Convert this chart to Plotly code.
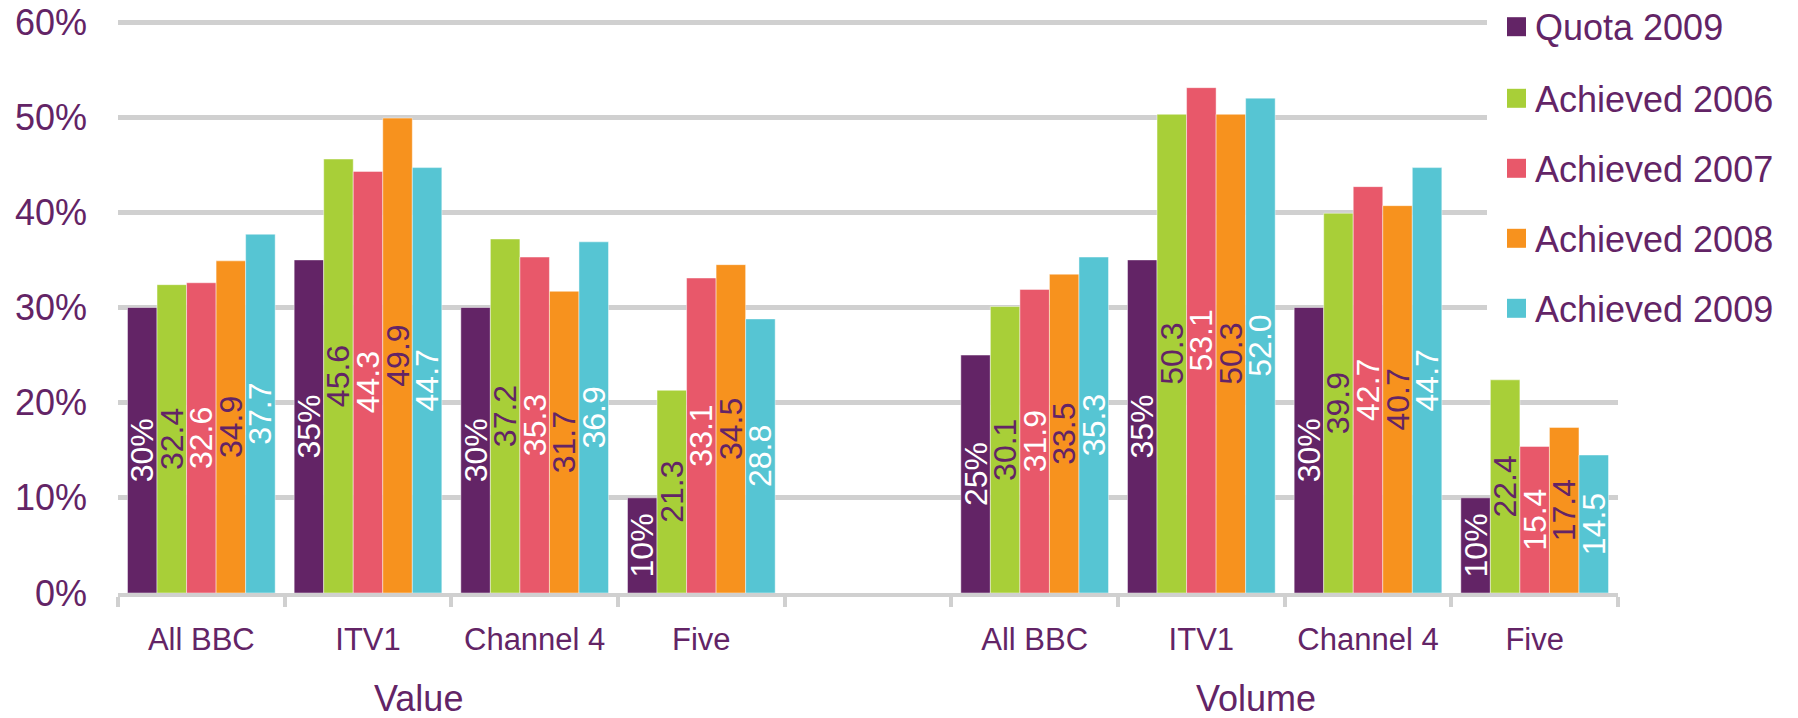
import plotly.graph_objects as go

# ---------------- data ----------------
groups = ["Value", "Volume"]
channels = ["All BBC", "ITV1", "Channel 4", "Five"]
series_names = ["Quota 2009", "Achieved 2006", "Achieved 2007", "Achieved 2008", "Achieved 2009"]

value_quota_2009 = [30, 35, 30, 10]
value_2006 = [32.4, 45.6, 37.2, 21.3]
value_2007 = [32.6, 44.3, 35.3, 33.1]
value_2008 = [34.9, 49.9, 31.7, 34.5]
value_2009 = [37.7, 44.7, 36.9, 28.8]

volume_quota_2009 = [25, 35, 30, 10]
volume_2006 = [30.1, 50.3, 39.9, 22.4]
volume_2007 = [31.9, 53.1, 42.7, 15.4]
volume_2008 = [33.5, 50.3, 40.7, 17.4]
volume_2009 = [35.3, 52.0, 44.7, 14.5]

y_ticks = [0, 10, 20, 30, 40, 50, 60]

# ---------------- style ----------------
PURPLE = "#632466"
bar_colors = [PURPLE, "#a8cf38", "#e8586a", "#f7921e", "#56c5d3"]
label_colors = ["#ffffff", PURPLE, "#ffffff", PURPLE, "#ffffff"]
GRID = "#d0d0d0"
FONT = "Liberation Sans, Arial, sans-serif"

# the page body adds an 8px margin, so the figure is 8px smaller and all
# reference pixel positions are shifted by that offset
OFF = 8
W, H = 1798 - OFF, 718 - OFF
PLOT_R, PLOT_B = 1618 - OFF, 593 - OFF
PX_PER_UNIT = (593 - 22) / 60.0          # 60% gridline at y=22, 0% at y=593
Y_TOP = 60.42                            # a little headroom so the 60% gridline is drawn
ML = 118 - OFF
MT = (22 - OFF) - (Y_TOP - 60) * PX_PER_UNIT
MR, MB = W - PLOT_R, H - PLOT_B
PW, PH = W - ML - MR, H - MT - MB


def px_x(x):
    return (x - OFF - ML) / PW


def px_y(y):
    return (PLOT_B - (y - OFF)) / PH


# category ids (unique) and their display text
x_ids = [f"Value|{c}" for c in channels] + ["gap"] + [f"Volume|{c}" for c in channels]
x_text = channels + [""] + channels

value_series = [value_quota_2009, value_2006, value_2007, value_2008, value_2009]
volume_series = [volume_quota_2009, volume_2006, volume_2007, volume_2008, volume_2009]

fig = go.Figure()
for i, name in enumerate(series_names):
    ys = list(value_series[i]) + [None] + list(volume_series[i])
    if i == 0:
        txt = [("" if v is None else f"{v:.0f}%") for v in ys]
    else:
        txt = [("" if v is None else f"{v:.1f}") for v in ys]
    fig.add_trace(go.Bar(
        x=x_ids, y=ys, name=name,
        marker=dict(color=bar_colors[i], line=dict(color="rgba(255,255,255,0.45)", width=1)),
        text=txt, textposition="inside", insidetextanchor="middle",
        textangle=-90, constraintext="none",
        textfont=dict(family=FONT, size=32, color=label_colors[i]),
        showlegend=False, hoverinfo="skip",
    ))

shapes = []
annotations = []

# legend (white box over the gridlines, squares + labels)
shapes.append(dict(type="rect", xref="paper", yref="paper", layer="above",
                   x0=px_x(1487), x1=px_x(1798 + 5), y0=px_y(-5), y1=px_y(345),
                   fillcolor="white", line=dict(width=0)))
leg_y = [26.7, 98.3, 168.3, 238.3, 308.3]
for i, name in enumerate(series_names):
    cy = leg_y[i]
    shapes.append(dict(type="rect", xref="paper", yref="paper", layer="above",
                       x0=px_x(1507), x1=px_x(1526), y0=px_y(cy + 9.5), y1=px_y(cy - 9.5),
                       fillcolor=bar_colors[i], line=dict(width=0)))
    annotations.append(dict(xref="paper", yref="paper", x=px_x(1533), y=px_y(cy + 1),
                            text=name, showarrow=False, xanchor="left", yanchor="middle",
                            font=dict(family=FONT, size=36, color=PURPLE)))

# group titles
group_x = [1.3, 6.33]
for g, gx in zip(groups, group_x):
    annotations.append(dict(xref="x", yref="paper", x=gx, y=px_y(698),
                            text=g, showarrow=False, xanchor="center", yanchor="middle",
                            font=dict(family=FONT, size=36, color=PURPLE)))

fig.update_layout(
    width=W, height=H,
    margin=dict(l=ML, r=MR, t=MT, b=MB, autoexpand=False),
    paper_bgcolor="white", plot_bgcolor="white",
    barmode="group", bargap=0.114, bargroupgap=0,
    font=dict(family=FONT, color=PURPLE),
    showlegend=False,
    shapes=shapes, annotations=annotations,
    xaxis=dict(
        type="category", categoryorder="array", categoryarray=x_ids,
        range=[-0.5, len(x_ids) - 0.5],
        tickmode="array", tickvals=x_ids, ticktext=x_text,
        tickson="boundaries", ticks="outside", ticklen=10, tickwidth=4, tickcolor=GRID,
        showline=True, linecolor=GRID, linewidth=4, showgrid=False, zeroline=False,
        tickfont=dict(family=FONT, size=31, color=PURPLE), ticklabelstandoff=16,
    ),
    yaxis=dict(
        range=[0, Y_TOP], tickmode="array", tickvals=y_ticks,
        ticktext=[f"{t}%" for t in y_ticks], ticklabeloverflow="allow",
        showgrid=True, gridcolor=GRID, gridwidth=4.5, zeroline=False, showline=False,
        ticks="", tickfont=dict(family=FONT, size=36, color=PURPLE), ticklabelstandoff=30,
    ),
)

fig.write_html("out.html")
